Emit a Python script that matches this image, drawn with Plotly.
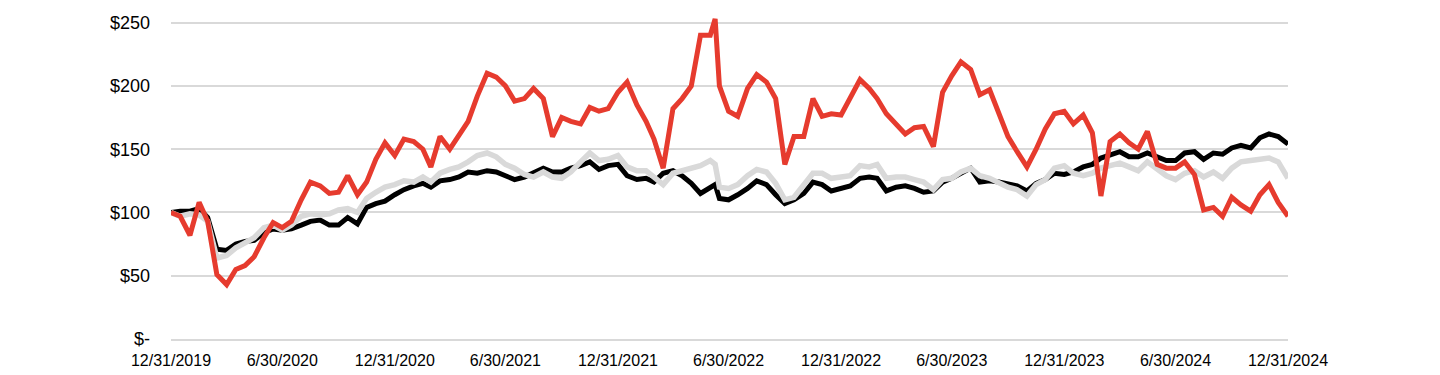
import plotly.graph_objects as go

dates = [
    "2019-12-31",
    "2020-01-15", "2020-01-31", "2020-02-15", "2020-02-29", "2020-03-15", "2020-03-31",
    "2020-04-15", "2020-04-30", "2020-05-15", "2020-05-31", "2020-06-15", "2020-06-30",
    "2020-07-15", "2020-07-31", "2020-08-15", "2020-08-31", "2020-09-15", "2020-09-30",
    "2020-10-15", "2020-10-31", "2020-11-15", "2020-11-30", "2020-12-15", "2020-12-31",
    "2021-01-15", "2021-01-31", "2021-02-15", "2021-02-28", "2021-03-15", "2021-03-31",
    "2021-04-15", "2021-04-30", "2021-05-15", "2021-05-31", "2021-06-15", "2021-06-30",
    "2021-07-15", "2021-07-31", "2021-08-15", "2021-08-31", "2021-09-15", "2021-09-30",
    "2021-10-15", "2021-10-31", "2021-11-15", "2021-11-30", "2021-12-15", "2021-12-31",
    "2022-01-15", "2022-01-31", "2022-02-15", "2022-02-28", "2022-03-15", "2022-03-31",
    "2022-04-15", "2022-04-30", "2022-05-15", "2022-05-31", "2022-06-08", "2022-06-15", "2022-06-30",
    "2022-07-15", "2022-07-31", "2022-08-15", "2022-08-31", "2022-09-15", "2022-09-30",
    "2022-10-15", "2022-10-31", "2022-11-15", "2022-11-30", "2022-12-15", "2022-12-31",
    "2023-01-15", "2023-01-31", "2023-02-15", "2023-02-28", "2023-03-15", "2023-03-31",
    "2023-04-15", "2023-04-30", "2023-05-15", "2023-05-31", "2023-06-15", "2023-06-30",
    "2023-07-15", "2023-07-31", "2023-08-15", "2023-08-31", "2023-09-15", "2023-09-30",
    "2023-10-15", "2023-10-31", "2023-11-15", "2023-11-30", "2023-12-15", "2023-12-31",
    "2024-01-15", "2024-01-31", "2024-02-15", "2024-02-29", "2024-03-15", "2024-03-31",
    "2024-04-15", "2024-04-30", "2024-05-15", "2024-05-31", "2024-06-15", "2024-06-30",
    "2024-07-15", "2024-07-31", "2024-08-15", "2024-08-31", "2024-09-15", "2024-09-30",
    "2024-10-15", "2024-10-31", "2024-11-15", "2024-11-30", "2024-12-15", "2024-12-31",
]

red_values = [
    100,
    97, 82, 108, 93, 51, 43,
    55, 58, 65, 80, 92, 88,
    93, 110, 124, 121, 115, 116,
    129, 114, 124, 142, 155, 145,
    158, 156, 150, 136, 160, 150,
    161, 172, 192, 210, 207, 200,
    188, 190, 198, 190, 160, 175,
    172, 170, 183, 180, 182, 195,
    203, 185, 172, 158, 135, 182,
    190, 200, 240, 240, 253, 200, 180,
    176, 198, 209, 203, 190, 138,
    160, 160, 190, 176, 178, 177,
    191, 205, 198, 190, 178, 169,
    162, 167, 168, 152, 195, 208,
    219, 213, 193, 197, 178, 160,
    148, 136, 150, 166, 178, 180,
    170, 177, 163, 113, 156, 162,
    155, 150, 164, 138, 135, 135,
    140, 130, 102, 104, 97, 112,
    106, 101, 114, 122, 108, 97,
]

black_values = [
    100,
    101, 101, 103, 96, 71, 70,
    75, 77, 78, 84, 87, 86,
    87, 90, 93, 94, 90, 90,
    96, 91, 104, 107, 109, 114,
    118, 121, 123, 120, 125, 126,
    128, 132, 131, 133, 132, 129,
    126, 128, 131, 135, 132, 132,
    135, 137, 140, 134, 137, 138,
    129, 126, 127, 124, 131, 133,
    129, 123, 115, 119, 122, 111, 110,
    114, 119, 125, 122, 114, 107,
    110, 115, 124, 122, 117, 119,
    121, 127, 128, 127, 117, 120,
    121, 119, 116, 117, 124, 127,
    131, 135, 124, 125, 124, 123,
    121, 117, 123, 126, 131, 130,
    132, 136, 138, 143, 145, 148,
    144, 144, 147, 144, 141, 141,
    147, 148, 142, 147, 146, 151,
    153, 151, 159, 162, 160, 154,
]

gray_values = [
    100,
    97, 99, 98, 93, 64, 66,
    72, 76, 80, 88, 90, 86,
    90, 97, 99, 98, 99, 102,
    103, 100, 111, 116, 120, 122,
    125, 124, 128, 124, 131, 134,
    136, 140, 145, 147, 144, 138,
    135, 130, 128, 132, 128, 127,
    132, 140, 147, 141, 142, 145,
    136, 133, 133, 128, 122, 131,
    133, 134, 137, 141, 138, 120, 119,
    122, 129, 134, 132, 123, 110,
    112, 121, 131, 131, 127, 128,
    129, 137, 136, 138, 127, 128,
    128, 126, 124, 118, 126, 127,
    132, 135, 129, 127, 123, 120,
    118, 113, 122, 126, 135, 137,
    131, 129, 131, 135, 137, 139,
    136, 133, 140, 134, 129, 126,
    131, 133, 128, 132, 127, 135,
    140, 141, 142, 143, 140, 127,
]

tick_dates = ["2019-12-31", "2020-06-30", "2020-12-31", "2021-06-30", "2021-12-31",
              "2022-06-30", "2022-12-31", "2023-06-30", "2023-12-31", "2024-06-30", "2024-12-31"]
tick_text = ["12/31/2019", "6/30/2020", "12/31/2020", "6/30/2021", "12/31/2021",
             "6/30/2022", "12/31/2022", "6/30/2023", "12/31/2023", "6/30/2024", "12/31/2024"]
y_ticks = [0, 50, 100, 150, 200, 250]
y_tick_text = ["$-", "$50", "$100", "$150", "$200", "$250"]

fig = go.Figure()
fig.add_trace(go.Scatter(x=dates, y=black_values, mode="lines", name="Black",
                         line=dict(color="#000000", width=5), hoverinfo="skip"))
fig.add_trace(go.Scatter(x=dates, y=gray_values, mode="lines", name="Gray",
                         line=dict(color="#d9d9d9", width=5.5), hoverinfo="skip"))
fig.add_trace(go.Scatter(x=dates, y=red_values, mode="lines", name="Red",
                         line=dict(color="#e63b2e", width=5), hoverinfo="skip"))

fig.update_layout(
    width=1440, height=375,
    margin=dict(l=171, r=152, t=10, b=36),
    paper_bgcolor="white", plot_bgcolor="white",
    showlegend=False,
    font=dict(family="Liberation Sans, Arial, sans-serif", color="#000000"),
)
fig.update_xaxes(
    type="date", range=["2019-12-31", "2024-12-31"],
    tickmode="array", tickvals=tick_dates, ticktext=tick_text,
    showgrid=False, showline=True, linecolor="#d9d9d9", linewidth=1.5,
    ticks="", ticklabelstandoff=6, automargin=False,
    tickfont=dict(family="Liberation Sans, Arial", size=16, color="#000000"),
)
fig.update_yaxes(
    range=[0, 260], tickmode="array", tickvals=y_ticks, ticktext=y_tick_text,
    showgrid=True, gridcolor="#d9d9d9", gridwidth=1.5, zeroline=False,
    ticks="", ticklabelstandoff=20, automargin=False,
    tickfont=dict(family="Liberation Sans, Arial", size=18, color="#000000"),
)

fig.write_html("out.html")
